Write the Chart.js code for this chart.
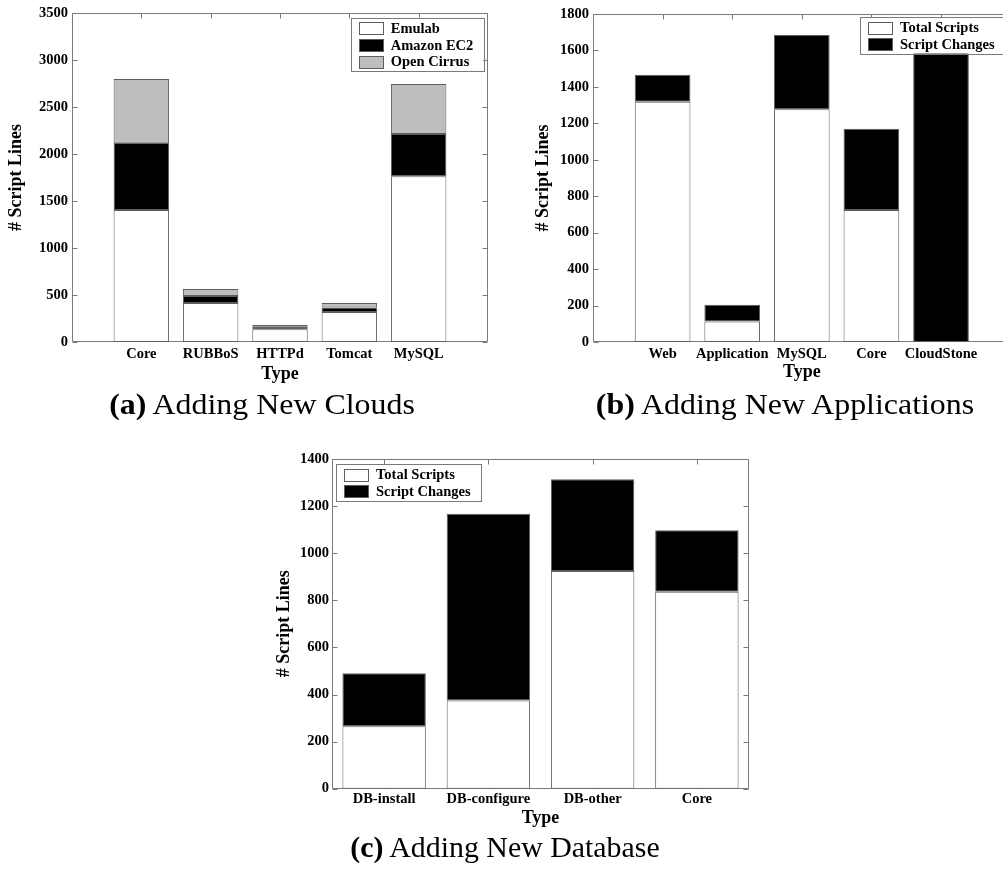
<!DOCTYPE html>
<html>
<head>
<meta charset="utf-8">
<script src="https://cdn.jsdelivr.net/npm/chart.js@4/dist/chart.umd.min.js"></script>
<style>
  html, body { margin: 0; padding: 0; background: #fff; }
  body { width: 1003px; height: 874px; position: relative; overflow: hidden;
         font-family: "Liberation Serif", "Times New Roman", serif; }
  canvas { position: absolute; }
  .cap { position: absolute; white-space: nowrap; font-size: 29px; color: #000;
         transform: translateX(-50%) scaleX(1.1); transform-origin: 50% 50%; }
  .cap.narrow { transform: translateX(-50%) scaleX(1.03); }
  .cap b { font-weight: bold; }
</style>
</head>
<body>
<canvas id="cloudChart" width="500" height="400" style="left:0;top:0;width:500px;height:400px"></canvas>
<canvas id="appChart" width="520" height="400" style="left:500px;top:0;width:520px;height:400px"></canvas>
<canvas id="dbChart" width="510" height="400" style="left:250px;top:440px;width:510px;height:400px"></canvas>
<div class="cap" style="left:262px;top:388px"><b>(a)</b> Adding New Clouds</div>
<div class="cap" style="left:785px;top:388px"><b>(b)</b> Adding New Applications</div>
<div class="cap narrow" style="left:505px;top:831px"><b>(c)</b> Adding New Database</div>

<script>
// (a) Adding New Clouds: script lines per component, split by cloud
const cloudTypes = ['Core', 'RUBBoS', 'HTTPd', 'Tomcat', 'MySQL'];
const emulabLines = [1404, 415, 135, 319, 1762];
const ec2Lines = [717, 74, 28, 49, 451];
const cirrusLines = [677, 75, 18, 47, 532];
const cloudTicks = [0, 500, 1000, 1500, 2000, 2500, 3000, 3500];

// (b) Adding New Applications
const appTypes = ['Web', 'Application', 'MySQL', 'Core', 'CloudStone'];
const appTotal = [1318, 113, 1277, 724, 0];
const appChanges = [149, 92, 408, 446, 1620];
const appTicks = [0, 200, 400, 600, 800, 1000, 1200, 1400, 1600, 1800];

// (c) Adding New Database
const dbTypes = ['DB-install', 'DB-configure', 'DB-other', 'Core'];
const dbTotal = [265, 375, 924, 836];
const dbChanges = [225, 793, 390, 261];
const dbTicks = [0, 200, 400, 600, 800, 1000, 1200, 1400];

const FONT = '"Liberation Serif", "Times New Roman", serif';
const AXIS_GRAY = '#7a7a7a';
const EDGE_GRAY = '#5e5e5e';

// Box around the plot with short inward ticks on every side
const framePlugin = {
  id: 'axesFrame',
  beforeDatasetsDraw(chart) {
    const { ctx, chartArea: a, scales: { x, y } } = chart;
    const L = Math.round(a.left) + 0.5, R = Math.round(a.right) - 0.5;
    const T = Math.round(a.top) + 0.5, B = Math.round(a.bottom) - 0.5;
    const len = 5;
    ctx.save();
    ctx.strokeStyle = AXIS_GRAY;
    ctx.lineWidth = 1;
    ctx.beginPath();
    ctx.rect(L, T, R - L, B - T);
    y.ticks.forEach(t => {
      const py = Math.round(y.getPixelForValue(t.value)) + 0.5;
      ctx.moveTo(L, py); ctx.lineTo(L + len, py);
      ctx.moveTo(R, py); ctx.lineTo(R - len, py);
    });
    x.ticks.forEach(t => {
      const px = Math.round(x.getPixelForValue(t.value)) + 0.5;
      ctx.moveTo(px, T); ctx.lineTo(px, T + len);
      ctx.moveTo(px, B); ctx.lineTo(px, B - len);
    });
    ctx.stroke();
    ctx.restore();
  }
};

// Boxed legend placed inside the plot area
const legendPlugin = {
  id: 'boxLegend',
  afterDraw(chart, args, opts) {
    const { ctx, chartArea: a } = chart;
    const sets = chart.data.datasets;
    ctx.save();
    ctx.font = `bold 14.5px ${FONT}`;
    const textW = Math.max(...sets.map(d => ctx.measureText(d.label).width));
    const w = 40 + textW + 10;
    const h = 10.6 + (sets.length - 1) * 16.7 + 9.3;
    const left = opts.side === 'right' ? a.right - opts.inset - w : a.left + opts.inset;
    const top = a.top + opts.top;
    ctx.fillStyle = '#fff';
    ctx.fillRect(left, top, w, h);
    ctx.strokeStyle = AXIS_GRAY;
    ctx.lineWidth = 1;
    ctx.strokeRect(Math.round(left) + 0.5, Math.round(top) + 0.5, Math.round(w), Math.round(h));
    sets.forEach((d, i) => {
      const cy = top + 10.6 + i * 16.7;
      ctx.fillStyle = d.backgroundColor;
      ctx.fillRect(Math.round(left + 8), Math.round(cy - 6), 24, 12);
      ctx.strokeStyle = EDGE_GRAY;
      ctx.strokeRect(Math.round(left + 8) + 0.5, Math.round(cy - 6) + 0.5, 24, 12);
      ctx.fillStyle = '#000';
      ctx.textBaseline = 'middle';
      ctx.textAlign = 'left';
      ctx.fillText(d.label, left + 40, cy + 1);
    });
    ctx.restore();
  }
};

function buildChart(id, spec) {
  return new Chart(document.getElementById(id), {
    type: 'bar',
    data: {
      datasets: spec.series.map(s => ({
        label: s.label,
        data: s.values.map((v, i) => ({ x: i + 1, y: v })),
        backgroundColor: s.color,
        borderColor: EDGE_GRAY,
        borderWidth: 1,
        borderSkipped: false,
        barPercentage: 0.8,
        categoryPercentage: 1
      }))
    },
    options: {
      responsive: false,
      animation: false,
      devicePixelRatio: 1,
      layout: { padding: spec.padding },
      plugins: {
        legend: { display: false },
        tooltip: { enabled: false },
        boxLegend: spec.legend
      },
      scales: {
        x: {
          type: 'linear',
          stacked: true,
          offset: false,
          min: spec.xMin,
          max: spec.xMax,
          grid: { display: false, drawTicks: false, offset: false },
          border: { display: false },
          afterBuildTicks: sc => { sc.ticks = spec.types.map((_, i) => ({ value: i + 1 })); },
          afterFit: sc => { sc.height = spec.xAxisHeight; },
          ticks: {
            autoSkip: false, maxRotation: 0, minRotation: 0,
            padding: spec.xTickPad, color: '#000',
            font: { family: FONT, size: 14.5, weight: 'bold' },
            callback: v => spec.types[Math.round(v) - 1] ?? ''
          },
          title: {
            display: true, text: 'Type', color: '#000',
            font: { family: FONT, size: 18, weight: 'bold', lineHeight: 1 },
            padding: { top: 0, bottom: spec.xTitlePad }
          }
        },
        y: {
          type: 'linear',
          stacked: true,
          min: 0,
          max: spec.yTicks[spec.yTicks.length - 1],
          grid: { display: false, drawTicks: false },
          border: { display: false },
          afterBuildTicks: sc => { sc.ticks = spec.yTicks.map(v => ({ value: v })); },
          afterFit: sc => { sc.width = spec.yAxisWidth; },
          ticks: {
            padding: spec.yTickPad, color: '#000',
            font: { family: FONT, size: 14.5, weight: 'bold' },
            callback: v => String(v)
          },
          title: {
            display: true, text: '# Script Lines', color: '#000',
            font: { family: FONT, size: 18, weight: 'bold', lineHeight: 1 },
            padding: { top: spec.yTitlePad, bottom: 0 }
          }
        }
      }
    },
    plugins: [framePlugin, legendPlugin]
  });
}

buildChart('cloudChart', {
  types: cloudTypes,
  yTicks: cloudTicks,
  xMin: 0, xMax: 6,
  series: [
    { label: 'Emulab', values: emulabLines, color: '#ffffff' },
    { label: 'Amazon EC2', values: ec2Lines, color: '#000000' },
    { label: 'Open Cirrus', values: cirrusLines, color: '#bebebe' }
  ],
  padding: { left: 0, top: 13, right: 12, bottom: 0 },
  xAxisHeight: 58, yAxisWidth: 72,
  xTickPad: 4, yTickPad: 4, xTitlePad: 17, yTitlePad: 7,
  legend: { side: 'right', inset: 4.7, top: 4.7 }
});

buildChart('appChart', {
  types: appTypes,
  yTicks: appTicks,
  xMin: 0, xMax: 6,
  series: [
    { label: 'Total Scripts', values: appTotal, color: '#ffffff' },
    { label: 'Script Changes', values: appChanges, color: '#000000' }
  ],
  padding: { left: 0, top: 14, right: 9.4, bottom: 0 },
  xAxisHeight: 58, yAxisWidth: 93,
  xTickPad: 4, yTickPad: 4, xTitlePad: 19, yTitlePad: 34,
  legend: { side: 'right', inset: 5.9, top: 3 }
});

buildChart('dbChart', {
  types: dbTypes,
  yTicks: dbTicks,
  xMin: 0.5, xMax: 4.5,
  series: [
    { label: 'Total Scripts', values: dbTotal, color: '#ffffff' },
    { label: 'Script Changes', values: dbChanges, color: '#000000' }
  ],
  padding: { left: 0, top: 19, right: 11, bottom: 0 },
  xAxisHeight: 51.3, yAxisWidth: 82,
  xTickPad: 2.2, yTickPad: 3, xTitlePad: 13, yTitlePad: 25,
  legend: { side: 'left', inset: 4, top: 5 }
});
</script>
</body>
</html>
